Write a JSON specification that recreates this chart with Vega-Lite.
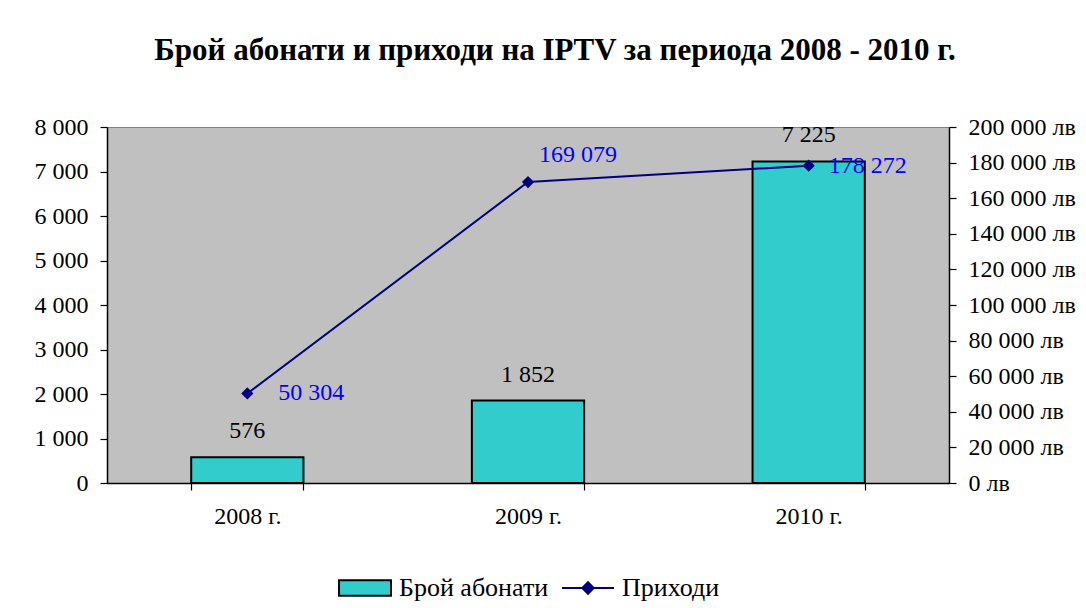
{
  "$schema": "https://vega.github.io/schema/vega-lite/v6.json",
  "width": 842,
  "height": 356,
  "autosize": "none",
  "padding": {"left": 107, "top": 127, "right": 137, "bottom": 125},
  "background": "#FFFFFF",
  "view": {"fill": "#C0C0C0", "fillOpacity": 1, "stroke": "#808080", "strokeWidth": 1},
  "title": {
    "text": "Брой абонати и приходи на IPTV за периода 2008 - 2010 г.",
    "font": "Liberation Serif",
    "fontSize": 31,
    "fontWeight": "bold",
    "color": "#000000",
    "anchor": "middle",
    "dx": 27,
    "offset": 48
  },
  "config": {
    "locale": {"number": {"decimal": ",", "thousands": " ", "grouping": [3], "currency": ["", " лв"]}},
    "view": {"fill": "#C0C0C0", "fillOpacity": 1, "stroke": "#808080", "strokeWidth": 1},
    "axis": {
      "labelFont": "Liberation Serif",
      "labelFontSize": 24,
      "labelColor": "#000000",
      "domainColor": "#000000",
      "domainWidth": 1.5,
      "tickColor": "#000000",
      "tickWidth": 1.2,
      "tickSize": 7,
      "grid": false,
      "title": null
    },
    "legend": {"labelFont": "Liberation Serif", "labelFontSize": 26, "labelColor": "#000000", "padding": 0}
  },
  "datasets": {
    "main": [
      {"year": "2008 г.", "subscribers": 576, "revenue": 50304},
      {"year": "2009 г.", "subscribers": 1852, "revenue": 169079},
      {"year": "2010 г.", "subscribers": 7225, "revenue": 178272}
    ],
    "legend": [
      {"series": "Брой абонати"},
      {"series": "Приходи"}
    ]
  },
  "layer": [
    {
      "data": {"name": "main"},
      "encoding": {
        "x": {
          "field": "year",
          "type": "nominal",
          "sort": null,
          "scale": {"paddingInner": 0.6, "paddingOuter": 0.3},
          "axis": {"labelAngle": 0, "tickBand": "extent", "labelPadding": 14, "tickSize": 7, "domainColor": "#000000"}
        },
        "y": {
          "field": "subscribers",
          "type": "quantitative",
          "scale": {"domain": [0, 8000], "nice": false},
          "axis": {"orient": "left", "values": [0, 1000, 2000, 3000, 4000, 5000, 6000, 7000, 8000], "format": ",d", "labelPadding": 12}
        }
      },
      "layer": [
        {"mark": {"type": "bar", "fill": "#33CCCC", "stroke": "#000000", "strokeWidth": 2}},
        {
          "mark": {"type": "text", "font": "Liberation Serif", "fontSize": 24, "color": "#000000", "baseline": "middle", "dy": -26},
          "encoding": {"text": {"field": "subscribers", "type": "quantitative", "format": ",d"}}
        }
      ]
    },
    {
      "data": {"name": "main"},
      "encoding": {
        "x": {"field": "year", "type": "nominal", "sort": null},
        "y": {
          "field": "revenue",
          "type": "quantitative",
          "scale": {"domain": [0, 200000], "nice": false},
          "axis": {"orient": "right", "values": [0, 20000, 40000, 60000, 80000, 100000, 120000, 140000, 160000, 180000, 200000], "format": "$,.0f", "labelPadding": 12}
        }
      },
      "layer": [
        {"mark": {"type": "line", "color": "#000080", "strokeWidth": 2}},
        {"mark": {"type": "point", "shape": "diamond", "filled": true, "color": "#000080", "opacity": 1, "size": 150}},
        {
          "transform": [{"filter": "datum.year === '2008 г.'"}],
          "mark": {"type": "text", "font": "Liberation Serif", "fontSize": 24, "color": "#0000FF", "align": "left", "baseline": "middle", "dx": 31, "dy": 0},
          "encoding": {"text": {"field": "revenue", "type": "quantitative", "format": ",d"}}
        },
        {
          "transform": [{"filter": "datum.year === '2009 г.'"}],
          "mark": {"type": "text", "font": "Liberation Serif", "fontSize": 24, "color": "#0000FF", "align": "left", "baseline": "middle", "dx": 11, "dy": -27},
          "encoding": {"text": {"field": "revenue", "type": "quantitative", "format": ",d"}}
        },
        {
          "transform": [{"filter": "datum.year === '2010 г.'"}],
          "mark": {"type": "text", "font": "Liberation Serif", "fontSize": 24, "color": "#0000FF", "align": "left", "baseline": "middle", "dx": 20, "dy": 0},
          "encoding": {"text": {"field": "revenue", "type": "quantitative", "format": ",d"}}
        }
      ]
    },
    {
      "data": {"name": "legend"},
      "mark": {"type": "point", "filled": true, "opacity": 0},
      "encoding": {
        "shape": {
          "field": "series",
          "type": "nominal",
          "scale": {"domain": ["Брой абонати", "Приходи"], "range": ["M-1,-0.3H1V0.3H-1Z", "M-1,0H1M0,-0.22L0.22,0L0,0.22L-0.22,0Z"]},
          "legend": {
            "title": null,
            "orient": "none",
            "legendX": 231,
            "legendY": 434,
            "direction": "horizontal",
            "symbolSize": 2700,
            "symbolStrokeWidth": 2,
            "symbolOpacity": 1,
            "columnPadding": 9,
            "labelOffset": 7,
            "encode": {
              "symbols": {
                "update": {
                  "opacity": {"value": 1},
                  "fillOpacity": {"value": 1},
                  "strokeOpacity": {"value": 1},
                  "fill": [{"test": "datum.value === 'Приходи'", "value": "#000080"}, {"value": "#33CCCC"}],
                  "stroke": [{"test": "datum.value === 'Приходи'", "value": "#000080"}, {"value": "#000000"}],
                  "strokeWidth": {"value": 2}
                }
              }
            }
          }
        },
        "fill": {
          "field": "series",
          "type": "nominal",
          "scale": {"domain": ["Брой абонати", "Приходи"], "range": ["#33CCCC", "#000080"]}
        },
        "stroke": {
          "field": "series",
          "type": "nominal",
          "scale": {"domain": ["Брой абонати", "Приходи"], "range": ["#000000", "#000080"]}
        }
      }
    }
  ],
  "resolve": {"scale": {"y": "independent"}}
}
